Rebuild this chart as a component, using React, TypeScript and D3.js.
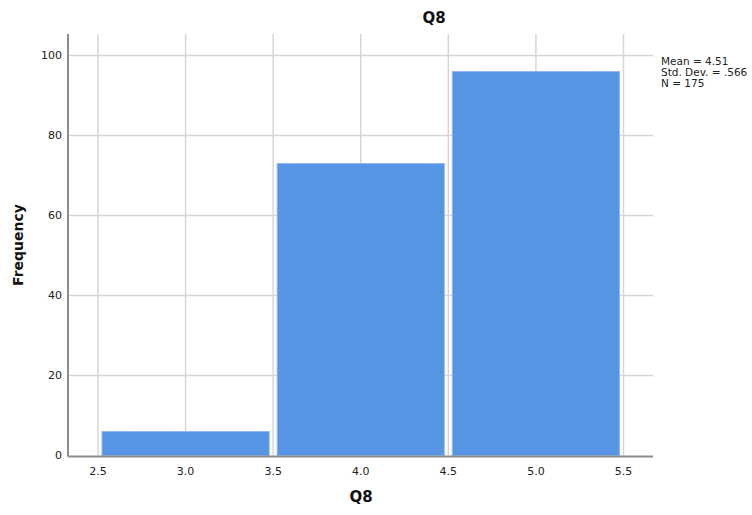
import React from "react";
import * as d3 from "d3";

const binStarts = [2.5, 3.5, 4.5];
const binEnds = [3.5, 4.5, 5.5];
const frequencies = [6, 73, 96];
const xTicks = [2.5, 3.0, 3.5, 4.0, 4.5, 5.0, 5.5];
const yTicks = [0, 20, 40, 60, 80, 100];
const statsLines = ["Mean = 4.51", "Std. Dev. = .566", "N = 175"];

const W = 752;
const H = 515;
const font = "'DejaVu Sans', 'Liberation Sans', sans-serif";

export default function App() {
  const plotLeft = 68;
  const plotRight = 653;
  const plotTop = 34;
  const x = d3.scaleLinear().domain([2.5, 5.5]).range([98, 623.5]);
  const y = d3.scaleLinear().domain([0, 100]).range([455.5, 55.5]);
  const inset = 4;

  return (
    <svg
      width={W}
      height={H}
      style={{ position: "absolute", left: 0, top: 0, background: "#fff" }}
      fontFamily={font}
    >
      {/* grid */}
      {yTicks.filter((t) => t > 0).map((t) => (
        <line key={"gy" + t} x1={plotLeft} x2={plotRight} y1={y(t)} y2={y(t)} stroke="#d6d6d6" strokeWidth={1.5} />
      ))}
      {xTicks.map((t) => (
        <line key={"gx" + t} x1={x(t)} x2={x(t)} y1={plotTop} y2={y(0)} stroke="#d6d6d6" strokeWidth={1.5} />
      ))}
      {/* bars */}
      {frequencies.map((f, i) => (
        <rect
          key={"b" + i}
          x={x(binStarts[i]) + inset}
          width={x(binEnds[i]) - x(binStarts[i]) - 2 * inset}
          y={y(f)}
          height={y(0) - y(f)}
          fill="#5595e3"
          stroke="#8fb8ee"
          strokeWidth={1}
        />
      ))}
      {/* axes */}
      <line x1={plotLeft} x2={plotLeft} y1={plotTop} y2={y(0) + 1} stroke="#8c8c8c" strokeWidth={2} />
      <line x1={plotLeft} x2={plotRight} y1={y(0) + 1} y2={y(0) + 1} stroke="#8c8c8c" strokeWidth={2} />
      {yTicks.map((t) => (
        <text key={"ty" + t} x={62} y={y(t)} dy="0.35em" textAnchor="end" fontSize={11} fill="#222">
          {t}
        </text>
      ))}
      {xTicks.map((t) => (
        <text key={"tx" + t} x={x(t)} y={471} dy="0.35em" textAnchor="middle" fontSize={11} fill="#222">
          {d3.format(".1f")(t)}
        </text>
      ))}
      {/* titles */}
      <text x={434} y={18} dy="0.35em" textAnchor="middle" fontSize={15} fontWeight="bold" fill="#111">
        Q8
      </text>
      <text x={361} y={497} dy="0.35em" textAnchor="middle" fontSize={15} fontWeight="bold" fill="#111">
        Q8
      </text>
      <text
        transform={`translate(18,245) rotate(-90)`}
        dy="0.35em"
        textAnchor="middle"
        fontSize={14}
        fontWeight="bold"
        fill="#111"
      >
        Frequency
      </text>
      {/* stats */}
      {statsLines.map((s, i) => (
        <text key={"s" + i} x={661} y={61 + i * 11} dy="0.35em" fontSize={10.5} fill="#222">
          {s}
        </text>
      ))}
    </svg>
  );
}
